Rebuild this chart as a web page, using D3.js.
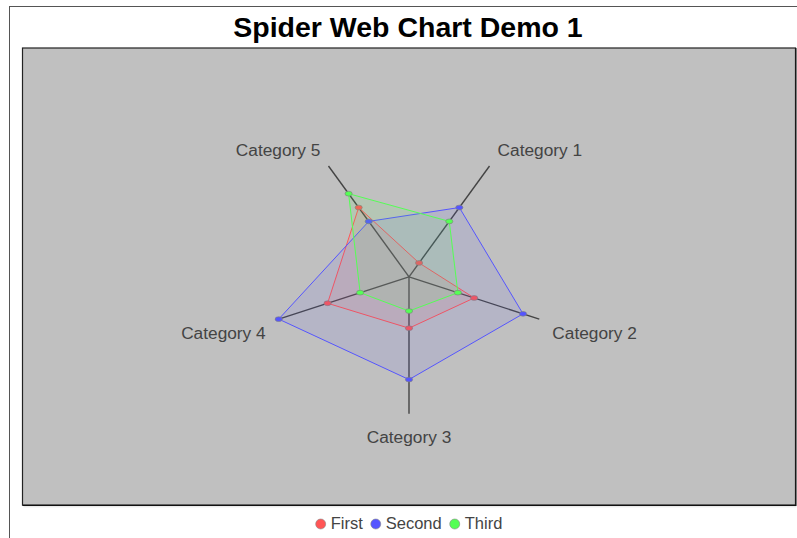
<!DOCTYPE html>
<html>
<head>
<meta charset="utf-8">
<script src="https://cdn.jsdelivr.net/npm/d3@7"></script>
<style>
  html, body { margin: 0; padding: 0; background: #fff; }
  svg { display: block; }
</style>
</head>
<body>
<svg id="chart" width="797" height="538"></svg>
<script>
const categories = ["Category 1", "Category 2", "Category 3", "Category 4", "Category 5"];
const seriesNames = ["First", "Second", "Third"];
const firstValues = [1, 4, 3, 5, 5];
const secondValues = [5, 7, 6, 8, 4];
const thirdValues = [4, 3, 2, 3, 6];
const seriesColors = ["#ff5555", "#5555ff", "#55ff55"];

const seriesValues = [firstValues, secondValues, thirdValues];
const svg = d3.select("#chart");
const W = 797, H = 538;
const font = "'Liberation Sans', Arial, Helvetica, sans-serif";

// outer frame
svg.append("rect").attr("x", 9.5).attr("y", 6.5).attr("width", W + 20).attr("height", H + 20)
  .attr("fill", "#fff").attr("stroke", "#555").attr("stroke-width", 1);

// title
svg.append("text").attr("x", 408).attr("y", 37).attr("text-anchor", "middle")
  .attr("font-family", font).attr("font-weight", "bold").attr("font-size", 28.5)
  .attr("fill", "#000").text("Spider Web Chart Demo 1");

// plot area
const px = 22.5, py = 48, pw = 773, ph = 457;
svg.append("line").attr("x1", px + 1).attr("x2", px + pw + 1).attr("y1", py + ph + 1.8).attr("y2", py + ph + 1.8)
  .attr("stroke", "#e4e4e4").attr("stroke-width", 1);
svg.append("rect").attr("x", px).attr("y", py).attr("width", pw).attr("height", ph)
  .attr("fill", "#c0c0c0").attr("stroke", "#222").attr("stroke-width", 1.2);
svg.append("line").attr("x1", px).attr("x2", px + pw + 0.5).attr("y1", py + ph + 0.5).attr("y2", py + ph + 0.5)
  .attr("stroke", "#111").attr("stroke-width", 1);
svg.append("line").attr("x1", px + pw + 0.5).attr("x2", px + pw + 0.5).attr("y1", py).attr("y2", py + ph + 1)
  .attr("stroke", "#111").attr("stroke-width", 1);

const cx = px + pw / 2, cy = 276.8, R = 137;
const maxVal = d3.max(seriesValues.flat());
const r = d3.scaleLinear().domain([0, maxVal]).range([0, R]);
const n = categories.length;
const angle = i => (54 - i * 360 / n) * Math.PI / 180;
const pt = (i, rad) => [cx + rad * Math.cos(angle(i)), cy - rad * Math.sin(angle(i))];

const g = svg.append("g");

// axes
categories.forEach((c, i) => {
  const [x, y] = pt(i, r(maxVal));
  g.append("line").attr("x1", cx).attr("y1", cy).attr("x2", x).attr("y2", y)
    .attr("stroke", "#444").attr("stroke-width", 1.4);
});

// series
seriesValues.forEach((vals, s) => {
  const pts = vals.map((v, i) => pt(i, r(v)));
  g.append("polygon").attr("points", pts.map(p => p.join(",")).join(" "))
    .attr("fill", seriesColors[s]).attr("fill-opacity", 0.1)
    .attr("stroke", seriesColors[s]).attr("stroke-width", 1);
  pts.forEach(p => {
    g.append("ellipse").attr("cx", p[0]).attr("cy", p[1]).attr("rx", 3.6).attr("ry", 2.4)
      .attr("fill", seriesColors[s]).attr("stroke", "#808080").attr("stroke-opacity", 0.8).attr("stroke-width", 0.8);
  });
});

// labels
categories.forEach((c, i) => {
  const [x, y] = pt(i, R * 1.1);
  let anchor = "middle";
  if (x > cx + 1) anchor = "start"; else if (x < cx - 1) anchor = "end";
  const base = y > cy ? y + 15.5 : y + 1.2;
  svg.append("text").attr("x", x).attr("y", base).attr("text-anchor", anchor)
    .attr("font-family", font).attr("font-size", 17.3).attr("fill", "#444").text(c);
});

// legend
const lg = svg.append("g");
const items = [];
let cur = 0;
seriesNames.forEach((name, s) => {
  const t = lg.append("text").attr("font-family", font).attr("font-size", 16.5).attr("fill", "#444")
    .attr("y", 529).text(name);
  const w = t.node().getComputedTextLength();
  items.push({ t, w, x: cur, s });
  cur += 10 + 5 + w + (s < seriesNames.length - 1 ? 8 : 0);
});
const start = 409 - cur / 2;
items.forEach(it => {
  const x0 = start + it.x;
  lg.append("circle").attr("cx", x0 + 5).attr("cy", 524).attr("r", 5)
    .attr("fill", seriesColors[it.s]).attr("stroke", "#888").attr("stroke-width", 0.6);
  it.t.attr("x", x0 + 15);
});
</script>
</body>
</html>
